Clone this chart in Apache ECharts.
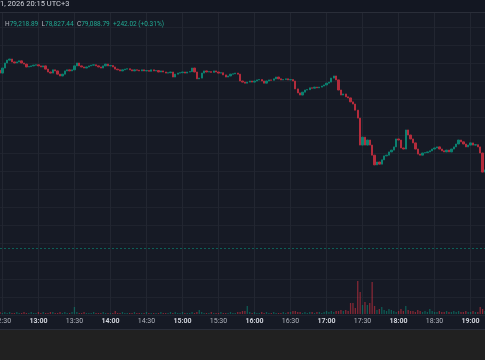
<!DOCTYPE html>
<html><head><meta charset="utf-8">
<script src="https://cdn.jsdelivr.net/npm/echarts@6/dist/echarts.min.js"></script>
<style>html,body{margin:0;padding:0;background:#161a25;overflow:hidden}#c{width:485px;height:360px}</style>
</head><body><div id="c"></div>
<script>
// ---- data ----
const startTime = '12:28';
const stepMinutes = 2;
const firstOpen = 79330;
const closes = [
79322,79336,79350,79358,79361,79353,79350,79353,79356,79350,
79347,79339,79340,79342,79344,79345,79342,79339,79342,79333,
79325,79322,79331,79328,79319,79314,79319,79328,79331,79328,
79331,79342,79350,79342,79339,79336,79339,79342,79344,79345,
79342,79339,79336,79342,79347,79342,79343,79339,79333,79331,
79328,79331,79333,79334,79331,79328,79331,79330,79328,79331,
79328,79329,79327,79331,79328,79329,79325,79328,79325,79322,
79323,79325,79311,79319,79322,79323,79325,79322,79325,79326,
79336,79325,79306,79308,79322,79328,79325,79326,79324,79328,
79325,79322,79323,79317,79311,79314,79319,79320,79322,79319,
79300,79297,79294,79297,79300,79297,79300,79303,79304,79300,
79294,79300,79303,79302,79306,79311,79306,79303,79304,79306,
79303,79304,79300,79278,79267,79261,79269,79275,79276,79281,
79280,79283,79281,79283,79286,79289,79294,79297,79308,79314,
79303,79275,79261,79264,79256,79253,79242,79236,79219,79197,
79122,79144,79122,79136,79122,79094,79067,79075,79069,79081,
79092,79094,79103,79108,79117,79139,79136,79114,79111,79164,
79150,79139,79128,79111,79097,79094,79100,79101,79103,79106,
79111,79114,79117,79111,79106,79103,79108,79103,79111,79117,
79125,79136,79131,79125,79117,79122,79128,79122,79123,79117,
79100,79047,79053
];
const volumes = [
2,1,2,1,2,1,1,2,1,1,
2,1,1,2,1,1,2,1,2,1,
1,2,2,1,1,2,1,2,1,1,
2,7,2,1,1,2,1,1,1,2,
1,1,1,2,1,1,1,1,3,1,
1,2,1,1,1,1,2,1,1,1,
1,2,1,1,1,1,1,2,1,1,
1,2,1,2,1,1,2,1,1,1,
2,1,2,4,2,1,1,1,2,1,
1,1,2,1,1,1,2,1,1,2,
2,3,3,8,2,1,2,1,1,2,
1,2,1,1,2,1,1,1,2,1,
2,2,3,3,2,2,1,2,1,2,
2,1,2,2,1,2,3,2,3,2,
3,3,4,3,4,3,11,11,6,33,
22,9,12,9,11,32,8,4,5,7,
4,3,5,4,3,2,3,5,3,8,
4,3,3,2,4,3,2,3,2,5,
3,2,2,3,2,2,3,2,2,3,
2,3,2,2,3,2,2,3,2,2,
7,5,3
];
const prevClose = 78835;
const priceMin = 78650, priceMax = 79500, priceStep = 50;
const headerText = '1, 2026 20:15 UTC+3';
const ohlcLetters = ['H', 'L', 'C'];
const ohlcValues = ['79,218.89', '78,827.44', '79,088.79'];
const changeText = '+242.02 (+0.31%)';

// ---- build ----
const UP = '#0b8070', DOWN = '#b42c3c';
const [sh, sm] = startTime.split(':').map(Number);
const times = closes.map((_, i) => {
  const m = sh * 60 + sm + i * stepMinutes;
  return String(Math.floor(m / 60)).padStart(2, '0') + ':' + String(m % 60).padStart(2, '0');
});
const candles = closes.map((c, i) => {
  const o = i === 0 ? firstOpen : closes[i - 1];
  return [o, c, Math.min(o, c), Math.max(o, c)];
});
const volData = volumes.map((v, i) => ({
  value: v,
  itemStyle: { color: candles[i][1] >= candles[i][0] ? 'rgba(8,153,129,0.5)' : 'rgba(242,54,69,0.5)' }
}));
const isMark = (i, v) => /:(00|30)$/.test(v);

const chart = echarts.init(document.getElementById('c'));
chart.setOption({
  animation: false,
  backgroundColor: '#161a25',
  grid: [
    { left: 0, right: 0, top: 9, height: 306, containLabel: false, outerBoundsMode: 'none' },
    { left: 0, right: 0, top: 214, height: 100, containLabel: false, outerBoundsMode: 'none' }
  ],
  xAxis: [
    {
      type: 'category', data: times, boundaryGap: false,
      axisLine: { show: false }, axisTick: { show: false },
      splitLine: { show: true, interval: isMark, lineStyle: { color: '#222631', width: 1 } },
      axisLabel: {
        interval: isMark, margin: 3, fontFamily: 'Roboto', fontSize: 7,
        hideOverlap: false,
        formatter: v => /:00$/.test(v) ? '{b|' + v + '}' : '{n|' + v + '}',
        rich: {
          b: { fontFamily: 'Roboto', fontSize: 7, fontWeight: 'bold', color: '#d1d4dc' },
          n: { fontFamily: 'Roboto', fontSize: 7, color: '#b2b5be' }
        }
      }
    },
    { type: 'category', gridIndex: 1, data: times, boundaryGap: false, show: false }
  ],
  yAxis: [
    {
      type: 'value', min: priceMin, max: priceMax, interval: priceStep, position: 'right',
      axisLabel: { show: false }, axisLine: { show: false }, axisTick: { show: false },
      splitLine: { lineStyle: { color: '#1f232e', width: 1 } }
    },
    { type: 'value', gridIndex: 1, min: 0, max: 100, show: false, splitLine: { show: false } }
  ],
  series: [
    {
      type: 'candlestick', data: candles, barWidth: 1.8,
      itemStyle: { color: UP, color0: DOWN, borderColor: UP, borderColor0: DOWN, borderWidth: 1 },
      markLine: {
        silent: true, symbol: 'none', label: { show: false },
        lineStyle: { color: 'rgba(8,153,129,0.55)', type: [2, 2], width: 1 },
        data: [{ yAxis: prevClose }]
      }
    },
    { type: 'bar', xAxisIndex: 1, yAxisIndex: 1, data: volData, barWidth: 1.3 }
  ],
  graphic: [
    { type: 'rect', z: 100, shape: { x: 0, y: 0, width: 485, height: 12 }, style: { fill: '#131722' } },
    { type: 'rect', z: 101, shape: { x: 0, y: 12, width: 485, height: 1 }, style: { fill: '#2a2e39' } },
    { type: 'text', z: 102, left: 0, top: 0, style: { text: headerText, fill: '#d1d4dc', font: '7.5px Roboto' } },
    {
      type: 'text', z: 102, left: 5, top: 18,
      style: {
        text: ohlcLetters.map((l, k) => '{l|' + l + '}{v|' + ohlcValues[k] + '}').join(' ') + ' {v|' + changeText + '}',
        rich: {
          l: { fill: '#b2b5be', font: '6.5px Roboto' },
          v: { fill: '#22ab94', font: '6.5px Roboto' }
        }
      }
    },
    { type: 'rect', z: 100, shape: { x: 0, y: 329, width: 485, height: 31 }, style: { fill: '#212121' } },
    { type: 'rect', z: 101, shape: { x: 0, y: 329, width: 485, height: 1 }, style: { fill: '#2a2e39' } }
  ]
});
</script>
</body></html>
